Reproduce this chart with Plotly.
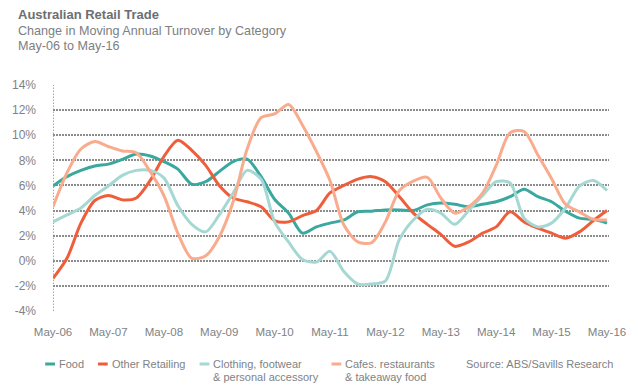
import pandas as pd
import plotly.graph_objects as go

# ---- data (quarterly readings, May-06 .. May-16) ----
start_month = "2006-05-01"
n_points = 41
food = [5.95, 6.7, 7.2, 7.55, 7.7, 8.07, 8.5, 8.35, 7.9, 7.3,
        6.1, 6.3, 7.1, 7.9, 8.1, 6.7, 4.9, 3.8, 2.2, 2.7,
        3.0, 3.25, 3.9, 3.95, 4.05, 4.05, 4.0, 4.45, 4.6, 4.5,
        4.3, 4.5, 4.7, 5.1, 5.7, 5.1, 4.7, 3.95, 3.4, 3.3, 3.0]
other_retailing = [-1.4, 0.2, 3.0, 4.8, 5.2, 4.85, 5.0, 6.4, 8.3, 9.6,
                   8.8, 7.6, 6.0, 5.0, 4.7, 4.3, 3.2, 3.1, 3.6, 4.0,
                   5.4, 6.0, 6.5, 6.7, 6.3, 5.1, 3.8, 2.9, 2.1, 1.15,
                   1.5, 2.2, 2.7, 3.9, 3.1, 2.6, 2.2, 1.8, 2.3, 3.2, 4.0]
clothing = [3.1, 3.65, 4.2, 5.2, 5.95, 6.8, 7.2, 7.2, 6.6, 4.4,
            2.9, 2.3, 3.65, 5.4, 7.2, 6.5, 3.1, 1.5, 0.1, -0.1,
            0.75, -0.85, -1.85, -1.85, -1.6, 1.7, 3.25, 4.1, 3.8, 2.9,
            4.0, 5.2, 6.3, 6.2, 3.4, 2.7, 3.0, 4.2, 5.95, 6.4, 5.6]
cafes = [4.3, 7.0, 8.9, 9.5, 9.1, 8.75, 8.6, 7.1, 5.2, 2.2,
         0.2, 0.4, 1.9, 4.7, 8.9, 11.4, 11.7, 12.45, 10.8, 8.7,
         6.4, 2.85, 1.5, 1.45, 3.1, 5.6, 6.35, 6.65, 5.0, 3.8,
         4.3, 5.4, 7.6, 10.2, 10.3, 8.4, 6.55, 4.5, 3.9, 3.3, 3.25]
series_names = ["Food", "Other Retailing", "Clothing, footwear<br>& personal accessory",
                "Cafes. restaurants<br>& takeaway food"]
y_ticks = [-4, -2, 0, 2, 4, 6, 8, 10, 12, 14]
x_tick_years = [2006 + i for i in range(11)]
title_lines = ["<b>Australian Retail Trade</b>",
               "Change in Moving Annual Turnover by Category",
               "May-06 to May-16"]
source_text = "Source: ABS/Savills Research"

# ---- style ----
colors = ["#3aa89e", "#ef5e3b", "#a5d8d3", "#f9ab8d"]
grey = "#808285"
grid_col = "#8c8c8c"
FONT = "Liberation Sans, Arial, sans-serif"

W, H = 638, 388
L, R, T, B = 43, 26, 85, 77
PW, PH = W - L - R, H - T - B


def px(xp):
    return (xp - L) / PW


def py(yp):
    return (H - B - yp) / PH


dates = pd.date_range(start_month, periods=n_points, freq="3MS")
all_series = [food, other_retailing, clothing, cafes]

fig = go.Figure()
for vals, name, col in zip(all_series, series_names, colors):
    fig.add_trace(go.Scatter(x=dates, y=vals, mode="lines", name=name,
                             line=dict(color=col, width=3, shape="spline", smoothing=0.8),
                             showlegend=False))

tickvals = [pd.Timestamp(f"{y}-05-01") for y in x_tick_years]
fig.update_xaxes(range=[pd.Timestamp("2006-05-01"), pd.Timestamp("2016-05-14")],
                 tickvals=tickvals, tickformat="%b-%y", showgrid=False,
                 zeroline=False, showline=False, ticks="",
                 ticklabelstandoff=12,
                 tickfont=dict(family=FONT, size=11.5, color=grey))
fig.update_yaxes(range=[-4, 14], tickvals=y_ticks,
                 ticktext=[f"{v}%" for v in y_ticks],
                 showgrid=True, gridcolor=grid_col, gridwidth=1.5,
                 griddash="1.5px,1.5px", zeroline=False, showline=False,
                 ticks="", ticklabelstandoff=16,
                 tickfont=dict(family=FONT, size=12, color=grey))

shapes = [dict(type="line", xref="x", yref="y", x0=dates[0], x1=dates[0], y0=-4, y1=14,
               line=dict(color=grid_col, width=1.5, dash="1.5px,1.5px"), layer="below")]
annotations = []

# title block
title_y = [15, 30.5, 46]
for i, (txt, yy) in enumerate(zip(title_lines, title_y)):
    annotations.append(dict(text=txt, xref="paper", yref="paper", x=px(5), y=py(yy),
                            xanchor="left", yanchor="middle", showarrow=False,
                            font=dict(family=FONT, size=13 if i == 0 else 12.6,
                                      color="#6d6e71" if i == 0 else "#7d7e81")))

# manual legend
swatch_x = [35, 89, 193, 328]
row1, row2 = 364, 376.7
for sx, name, col in zip(swatch_x, series_names, colors):
    shapes.append(dict(type="line", xref="paper", yref="paper",
                       x0=px(sx), x1=px(sx + 10), y0=py(row1), y1=py(row1),
                       line=dict(color=col, width=3)))
    for j, part in enumerate(name.split("<br>")):
        annotations.append(dict(text=part, xref="paper", yref="paper",
                                x=px(sx + 12), y=py(row1 if j == 0 else row2),
                                xanchor="left", yanchor="middle", showarrow=False,
                                font=dict(family=FONT, size=11, color=grey)))
annotations.append(dict(text=source_text, xref="paper", yref="paper",
                        x=px(463.5), y=py(row1), xanchor="left", yanchor="middle",
                        showarrow=False, font=dict(family=FONT, size=11, color=grey)))

fig.update_layout(width=W, height=H, margin=dict(l=L, r=R, t=T, b=B, pad=0),
                  paper_bgcolor="white", plot_bgcolor="white",
                  shapes=shapes, annotations=annotations, showlegend=False)

fig.write_html("out.html", config={"displayModeBar": False},
               post_script="document.body.style.margin='0';document.body.style.padding='0';")
